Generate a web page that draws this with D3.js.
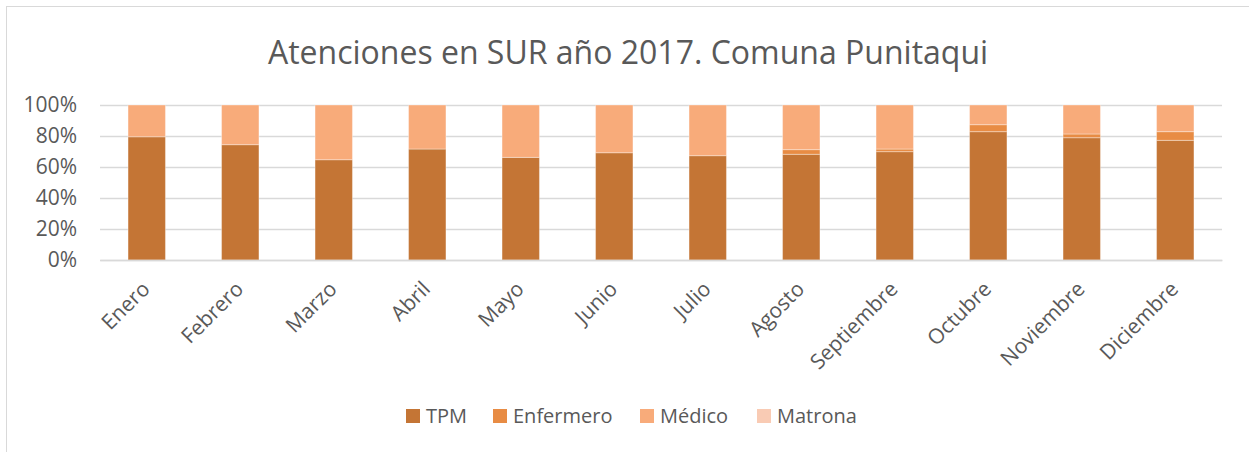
<!DOCTYPE html>
<html>
<head>
<meta charset="utf-8">
<script src="https://cdn.jsdelivr.net/npm/d3@7"></script>
<style>
  body { margin: 0; background: #fff; }
  text { font-family: "Open Sans", "Noto Sans", sans-serif; fill: #595959; }
</style>
</head>
<body>
<div id="chart"></div>
<script>
// Meses
const months = ["Enero", "Febrero", "Marzo", "Abril", "Mayo", "Junio", "Julio",
  "Agosto", "Septiembre", "Octubre", "Noviembre", "Diciembre"]

// Porcentajes, por estamento
const tpm = [79.5, 74.4, 64.7, 71.6, 66.2, 69.2, 67.3, 68.2, 69.9, 82.8, 78.9, 77.2]
const enfermero = [0, 0, 0, 0, 0, 0, 0, 3.0, 1.7, 4.5, 2.4, 5.6]
const medico = [20.5, 25.6, 35.3, 28.4, 33.8, 30.8, 32.7, 28.8, 28.4, 12.7, 18.7, 17.2]
const matrona = [0, 0, 0, 0, 0, 0, 0, 0, 0, 0, 0, 0]

const seriesNames = ["TPM", "Enfermero", "Médico", "Matrona"]
const colors = ["#C47535", "#E88C44", "#F8AB7A", "#F9CBB4"]
const yTicks = [0, 0.2, 0.4, 0.6, 0.8, 1]

const W = 1249, H = 452
const margin = { top: 105, right: 27, bottom: 192, left: 100 }
const width = W - margin.left - margin.right,
  height = H - margin.top - margin.bottom

// Tabla para el stack
const table = months.map((m, i) => ({
  month: m, TPM: tpm[i], Enfermero: enfermero[i], "Médico": medico[i], Matrona: matrona[i]
}))

const stacked = d3.stack()
  .keys(seriesNames)
  .offset(d3.stackOffsetExpand)(table)

const svg = d3.select("#chart")
  .append("svg")
  .attr("width", W)
  .attr("height", H)

// Borde del área del gráfico
svg.append("rect")
  .attr("x", 6.5).attr("y", 6.5)
  .attr("width", W + 10).attr("height", H + 10)
  .attr("fill", "none")
  .attr("stroke", "#D9D9D9")

// Título
svg.append("text")
  .attr("x", 628)
  .attr("y", 64)
  .attr("text-anchor", "middle")
  .style("font-size", "32px")
  .text("Atenciones en SUR año 2017. Comuna Punitaqui")

const g = svg.append("g")
  .attr("transform", "translate(" + margin.left + "," + margin.top + ")")

const x = d3.scaleBand()
  .domain(months)
  .range([0, width])
  .paddingInner(0.6)
  .paddingOuter(0.3)

const y = d3.scaleLinear()
  .domain([0, 1])
  .range([height, 0])

// Líneas de cuadrícula
g.append("g")
  .call(d3.axisLeft(y).tickValues(yTicks).tickSize(-width).tickFormat(d3.format(".0%")))
  .call(ax => ax.select(".domain").remove())
  .call(ax => ax.selectAll(".tick line").attr("stroke", "#D9D9D9").attr("stroke-width", 1.5))
  .call(ax => ax.selectAll(".tick text")
    .attr("x", -23)
    .style("font-size", "21px")
    .style("fill", "#595959"))

// Barras
g.selectAll(".serie")
  .data(stacked)
  .join("g")
  .attr("class", "serie")
  .attr("fill", (d, i) => colors[i])
  .selectAll("rect")
  .data(d => d)
  .join("rect")
  .attr("x", d => x(d.data.month))
  .attr("y", d => y(d[1]))
  .attr("width", x.bandwidth())
  .attr("height", d => y(d[0]) - y(d[1]))
  .attr("stroke", "#fff")
  .attr("stroke-opacity", 0.35)
  .attr("stroke-width", 1)

// Eje X
g.append("g")
  .attr("transform", "translate(0," + height + ")")
  .call(d3.axisBottom(x).tickSize(0))
  .call(ax => ax.select(".domain").attr("stroke", "#D9D9D9").attr("stroke-width", 1.5))
  .call(ax => ax.selectAll(".tick text")
    .attr("text-anchor", "end")
    .attr("transform", "translate(-3,23) rotate(-45)")
    .attr("dy", "0.35em")
    .style("font-size", "21px")
    .style("fill", "#595959"))

// Leyenda
const legendX = [406, 493, 640, 757]
const legend = svg.append("g")
  .selectAll("g")
  .data(seriesNames)
  .join("g")
  .attr("transform", (d, i) => "translate(" + legendX[i] + ",409)")

legend.append("rect")
  .attr("width", 14).attr("height", 14)
  .attr("fill", (d, i) => colors[i])

legend.append("text")
  .attr("x", 20)
  .attr("y", 7)
  .attr("dy", "0.35em")
  .style("font-size", "20px")
  .text(d => d)
</script>
</body>
</html>
